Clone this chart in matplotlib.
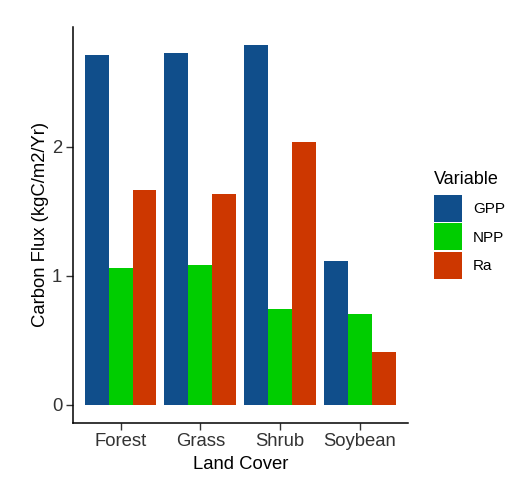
import numpy as np
import matplotlib
matplotlib.use("Agg")
import matplotlib.pyplot as plt

plt.rcParams['font.family'] = ['Liberation Sans', 'DejaVu Sans']

categories = ["Forest", "Grass", "Shrub", "Soybean"]
variables = ["GPP", "NPP", "Ra"]
gpp = [2.714, 2.724, 2.79, 1.111]
npp = [1.057, 1.082, 0.743, 0.707]
ra = [1.665, 1.636, 2.04, 0.406]
colors = ["#104E8B", "#00CD00", "#CD3700"]
yticks = [0, 1, 2]

fig = plt.figure(figsize=(5.26, 4.92), dpi=100)
ax = fig.add_axes([72.7/526, 1-422.7/492, (407.7-72.7)/526, (422.7-27)/492])

x = np.arange(len(categories))
w = 0.9/3
for i, (vals, c, lab) in enumerate(zip([gpp, npp, ra], colors, variables)):
    ax.bar(x + (i-1)*w, vals, width=w, color=c, label=lab, linewidth=0)

ax.set_xlim(-0.6, 3.6)
ymax = max(max(gpp), max(npp), max(ra))
ax.set_ylim(-0.05*ymax, ymax*1.05)
ax.set_xticks(x)
ax.set_xticklabels(categories)
ax.set_yticks(yticks)
ax.set_yticklabels([str(t) for t in yticks])
for s in ['top', 'right']:
    ax.spines[s].set_visible(False)
for s in ['left', 'bottom']:
    ax.spines[s].set_linewidth(1.1)
    ax.spines[s].set_color('black')
ax.tick_params(axis='both', length=5, width=1.0, color='#333333',
               labelsize=13.3, labelcolor='#333333', pad=2.5)
ax.set_xlabel("Land Cover", fontsize=13.3, color='black', labelpad=4)
ax.set_ylabel("Carbon Flux (kgC/m2/Yr)", fontsize=13.3, color='black', labelpad=2)

leg = ax.legend(title="Variable", loc='upper left',
                bbox_to_anchor=(434/526, 1-171/492), bbox_transform=fig.transFigure,
                frameon=False, fontsize=11, title_fontsize=13,
                handlelength=1.8, handleheight=2.34, labelspacing=0.1,
                handletextpad=0.75, borderpad=0, borderaxespad=0)
leg._legend_box.align = "left"
leg._legend_box.sep = 5

fig.savefig("out.png", dpi=100, facecolor='white')
